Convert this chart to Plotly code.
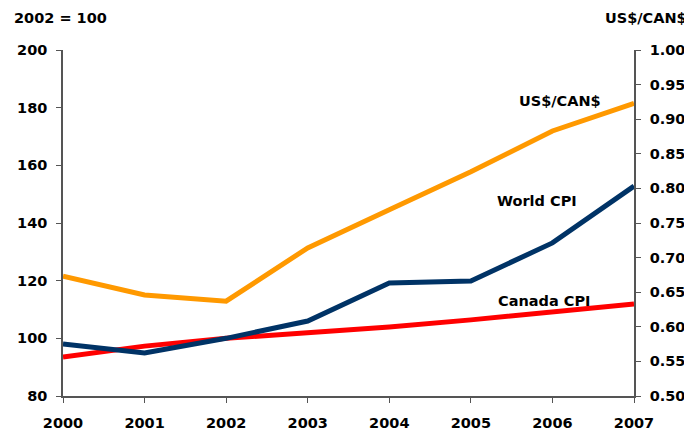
import plotly.graph_objects as go

years = [2000, 2001, 2002, 2003, 2004, 2005, 2006, 2007]
world_cpi = [98.0, 94.9, 100.0, 106.0, 119.2, 119.9, 133.1, 152.8]
canada_cpi = [93.5, 97.3, 100.0, 101.9, 103.9, 106.4, 109.1, 111.9]
usd_cad = [0.673, 0.646, 0.637, 0.714, 0.769, 0.824, 0.883, 0.923]

left_ticks = [80, 100, 120, 140, 160, 180, 200]
right_ticks = [0.50, 0.55, 0.60, 0.65, 0.70, 0.75, 0.80, 0.85, 0.90, 0.95, 1.00]

FONT = "DejaVu Sans"
FS = 14.5
fig = go.Figure()
fig.add_trace(go.Scatter(x=years, y=usd_cad, yaxis="y2", mode="lines",
                         line=dict(color="#FF9900", width=5), name="US$/CAN$"))
fig.add_trace(go.Scatter(x=years, y=canada_cpi, mode="lines",
                         line=dict(color="#FF0000", width=5), name="Canada CPI"))
fig.add_trace(go.Scatter(x=years, y=world_cpi, mode="lines",
                         line=dict(color="#003366", width=5), name="World CPI"))

axis_common = dict(showgrid=False, zeroline=False, showline=True, linecolor="#555555",
                   linewidth=1.5, ticks="outside", ticklen=5, tickcolor="#555555",
                   automargin=False,
                   tickfont=dict(family=FONT, size=FS, color="black", weight="bold"))

# page body has an 8px margin, so the figure is sized to fit the window
W, H = 684, 422
L, T, PW, PH = 55, 42, 571, 346
fig.update_layout(
    width=W, height=H,
    margin=dict(l=L, r=W - L - PW, t=T, b=H - T - PH, autoexpand=False),
    paper_bgcolor="white", plot_bgcolor="white",
    showlegend=False,
    xaxis=dict(range=[2000, 2007], tickvals=years, ticktext=[str(y) for y in years],
               ticklabelstandoff=8, **axis_common),
    yaxis=dict(range=[80, 200], tickvals=left_ticks, ticklabelstandoff=6, **axis_common),
    yaxis2=dict(range=[0.5, 1.0], tickvals=right_ticks,
                ticktext=[f"{v:.2f}" for v in right_ticks], ticklabelstandoff=6,
                overlaying="y", side="right", **axis_common),
)

ann_font = dict(family=FONT, size=FS, color="black", weight="bold")
fig.add_annotation(text="2002 = 100", xref="paper", yref="paper", x=-(L - 4) / PW,
                   y=1 + (T - 10) / PH, xanchor="left", yanchor="middle",
                   showarrow=False, font=ann_font)
fig.add_annotation(text="US$/CAN$", xref="paper", yref="paper", x=(595 - L) / PW,
                   y=1 + (T - 10) / PH, xanchor="left", yanchor="middle",
                   showarrow=False, font=ann_font)
fig.add_annotation(text="US$/CAN$", xref="x", yref="y", x=2006.09, y=182.3,
                   xanchor="center", yanchor="middle", showarrow=False, font=ann_font)
fig.add_annotation(text="World CPI", xref="x", yref="y", x=2005.81, y=147.8,
                   xanchor="center", yanchor="middle", showarrow=False, font=ann_font)
fig.add_annotation(text="Canada CPI", xref="x", yref="y", x=2005.9, y=113,
                   xanchor="center", yanchor="middle", showarrow=False, font=ann_font)

fig.write_html("out.html")
